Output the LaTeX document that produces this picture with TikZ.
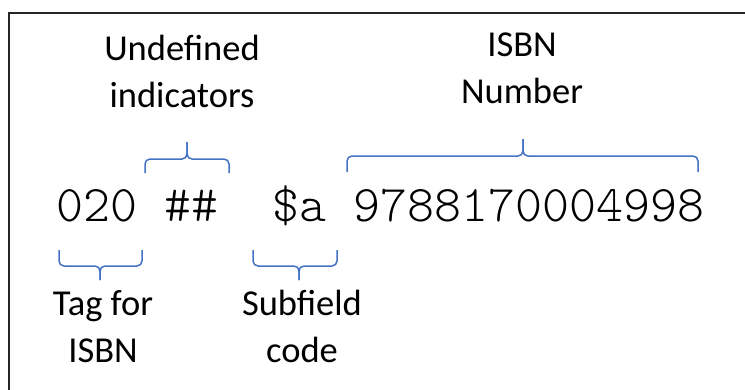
\documentclass[tikz,border=0pt]{standalone}
\usepackage{fontspec}
\setmainfont{Carlito}
\newfontfamily\marcfont{lmmonolt10-regular.otf}
\definecolor{bracecol}{HTML}{4472C4}
\begin{document}
\begin{tikzpicture}[x=1pt,y=-1pt,
	every node/.style={inner sep=0pt},
	caption/.style={font=\fontsize{36.5}{47}\selectfont,align=center,anchor=base},
	field/.style={font=\marcfont\fontsize{51.4}{51.4}\selectfont,anchor=base west},
	brace line/.style={draw=bracecol,line width=1.5pt,rounded corners=5pt}]
	\useasboundingbox (0,0) rectangle (745,389);
	%frame
	\draw[line width=2.5pt,draw=black!85] (9,420) -- (9,13) -- (770,13);
	
	%MARC field
	\node[field] (tag) at (56,221) {020};
	\node[field] (ind) at (164,221) {\#\#};
	\node[field] (code) at (272,221) {\$a};
	\node[field] (isbn) at (353,221) {9788170004998};
	
	%braces above and below
	\foreach \xa/\xb/\xm/\ya/\yb/\yc in {145/229/187/173/159/142, 347/698/523/172/156/139,
		59/142/100/250/266/280, 253/337/299/250/266/280}{
		\draw[brace line] (\xa,\ya) |- (\xm,\yb) -- (\xm,\yc);
		\draw[brace line] (\xb,\ya) |- (\xm,\yb) -- (\xm,\yc);
	}
	
	%captions (base = last line)
	\node[caption] (indlabel) at (182,107) {Undefined\\indicators};
	\node[caption] (isbnlabel) at (522,103) {ISBN\\Number};
	\node[caption] (taglabel) at (103,362) {Tag for\\ISBN};
	\node[caption] (codelabel) at (302,362) {Subfield\\code};
\end{tikzpicture}
\end{document}
